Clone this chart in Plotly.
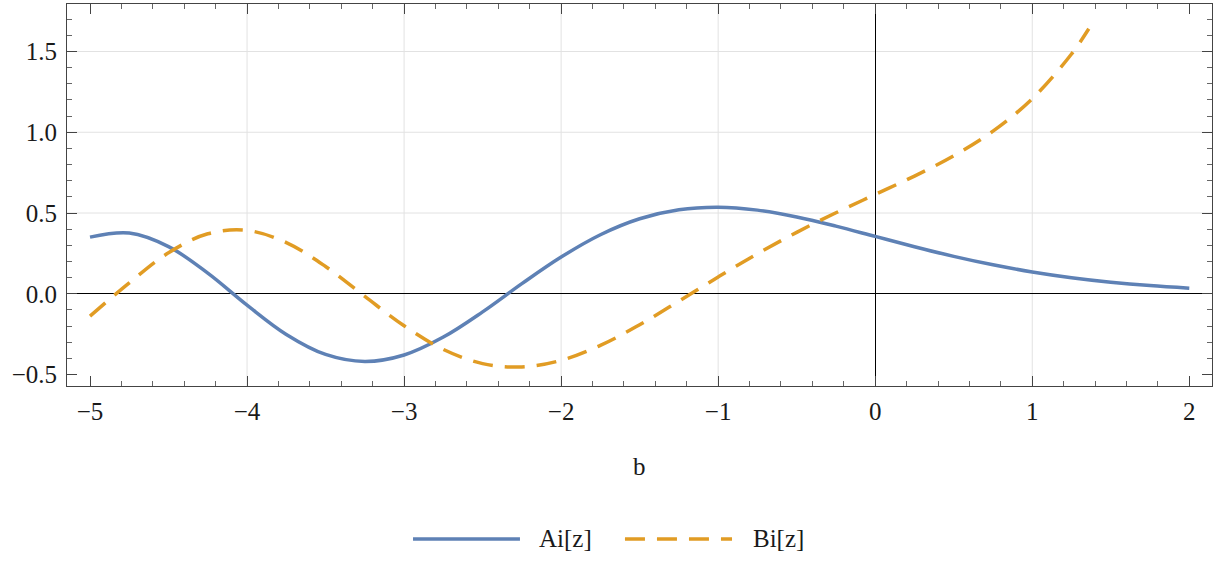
import plotly.graph_objects as go

# Airy functions sampled on [-5, 2]
z_ai = [-5.0, -4.75, -4.5, -4.25, -4.0, -3.75, -3.5, -3.25, -3.0, -2.75, -2.5, -2.25,
        -2.0, -1.75, -1.5, -1.25, -1.0, -0.75, -0.5, -0.25, 0.0, 0.25, 0.5, 0.75,
        1.0, 1.25, 1.5, 1.75, 2.0]
ai_vals = [0.3508, 0.3759, 0.2921, 0.1277, -0.0703, -0.2517, -0.3756, -0.4189, -0.3788,
           -0.2680, -0.1121, 0.0626, 0.2274, 0.3655, 0.4643, 0.5200, 0.5356, 0.5178,
           0.4757, 0.4187, 0.3550, 0.2912, 0.2317, 0.1793, 0.1353, 0.0997, 0.0718,
           0.0506, 0.0349]

z_bi = [-5.0, -4.75, -4.5, -4.25, -4.0, -3.75, -3.5, -3.25, -3.0, -2.75, -2.5, -2.25,
        -2.0, -1.75, -1.5, -1.25, -1.0, -0.75, -0.5, -0.25, 0.0, 0.25, 0.5, 0.75,
        1.0, 1.25, 1.36]
bi_vals = [-0.1384, 0.0673, 0.2539, 0.3712, 0.3922, 0.3171, 0.1688, -0.0163, -0.1981,
           -0.3445, -0.4323, -0.4532, -0.4123, -0.3195, -0.1918, -0.0459, 0.1040, 0.2478,
           0.3804, 0.5014, 0.6149, 0.7288, 0.8543, 1.0069, 1.2074, 1.4844, 1.6405]

x_ticks = [-5, -4, -3, -2, -1, 0, 1, 2]
x_tick_text = ["−5", "−4", "−3", "−2", "−1", "0", "1", "2"]
y_ticks = [-0.5, 0.0, 0.5, 1.0, 1.5]
y_tick_text = ["−0.5", "0.0", "0.5", "1.0", "1.5"]
x_grid = [-4, -3, -2, -1, 1]
y_grid = [0.5, 1.0, 1.5]

series_names = ["Ai[z]", "Bi[z]"]
BLUE = "#5E81B5"
ORANGE = "#E19C24"
FONT = "Liberation Serif, serif"
FSIZE = 25
FRAME = "#444444"
TEXT = "#1a1a1a"

fig = go.Figure()
fig.add_trace(go.Scatter(x=z_ai, y=ai_vals, mode="lines", name=series_names[0],
                         line=dict(color=BLUE, width=3.5, shape="spline"),
                         showlegend=False))
fig.add_trace(go.Scatter(x=z_bi, y=bi_vals, mode="lines", name=series_names[1],
                         line=dict(color=ORANGE, width=3.5, shape="spline",
                                   dash="20px,12px"),
                         showlegend=False))

shapes = []
for gx in x_grid:
    shapes.append(dict(type="line", xref="x", yref="y domain", x0=gx, x1=gx, y0=0, y1=1,
                       line=dict(color="#e2e2e2", width=1), layer="below"))
for gy in y_grid:
    shapes.append(dict(type="line", xref="x domain", yref="y", x0=0, x1=1, y0=gy, y1=gy,
                       line=dict(color="#e2e2e2", width=1), layer="below"))

# legend drawn below the axis title
leg_y = -0.4005
shapes.append(dict(type="line", xref="paper", yref="paper", x0=0.3022, x1=0.3956,
                   y0=leg_y, y1=leg_y, line=dict(color=BLUE, width=3.5)))
shapes.append(dict(type="line", xref="paper", yref="paper", x0=0.4873, x1=0.5808,
                   y0=leg_y, y1=leg_y, line=dict(color=ORANGE, width=3.5, dash="20px,12px")))

annotations = [
    dict(text="b", xref="paper", yref="paper", x=0.5, y=-0.212, showarrow=False,
         xanchor="center", yanchor="middle", font=dict(family=FONT, size=FSIZE, color=TEXT)),
    dict(text=series_names[0], xref="paper", yref="paper", x=0.4105, y=leg_y,
         showarrow=False, xanchor="left", yanchor="middle",
         font=dict(family=FONT, size=FSIZE, color=TEXT)),
    dict(text=series_names[1], xref="paper", yref="paper", x=0.5975, y=leg_y,
         showarrow=False, xanchor="left", yanchor="middle",
         font=dict(family=FONT, size=FSIZE, color=TEXT)),
]

axis_common = dict(
    ticks="inside", ticklen=10, tickwidth=1, tickcolor=FRAME,
    showline=True, linecolor=FRAME, linewidth=1, mirror="ticks",
    showgrid=False, zeroline=True, zerolinecolor="black", zerolinewidth=1,
    tickfont=dict(family=FONT, size=FSIZE, color=TEXT),
)

fig.update_xaxes(range=[-5.1465, 2.1446], tickmode="array", tickvals=x_ticks,
                 ticktext=x_tick_text,
                 minor=dict(tick0=0, dtick=0.2, ticks="inside", ticklen=5,
                            tickcolor="#666666", showgrid=False),
                 ticklabelstandoff=3, **axis_common)
fig.update_yaxes(range=[-0.571, 1.794], tickmode="array", tickvals=y_ticks,
                 ticktext=y_tick_text,
                 minor=dict(tick0=0, dtick=0.1, ticks="inside", ticklen=5,
                            tickcolor="#666666", showgrid=False),
                 ticklabelstandoff=4, **axis_common)

fig.update_layout(
    width=1224, height=561,
    margin=dict(l=67, r=12, t=4, b=175),
    paper_bgcolor="white", plot_bgcolor="white",
    shapes=shapes, annotations=annotations,
    font=dict(family=FONT, size=FSIZE, color=TEXT),
    showlegend=False,
)

fig.write_html("out.html")
